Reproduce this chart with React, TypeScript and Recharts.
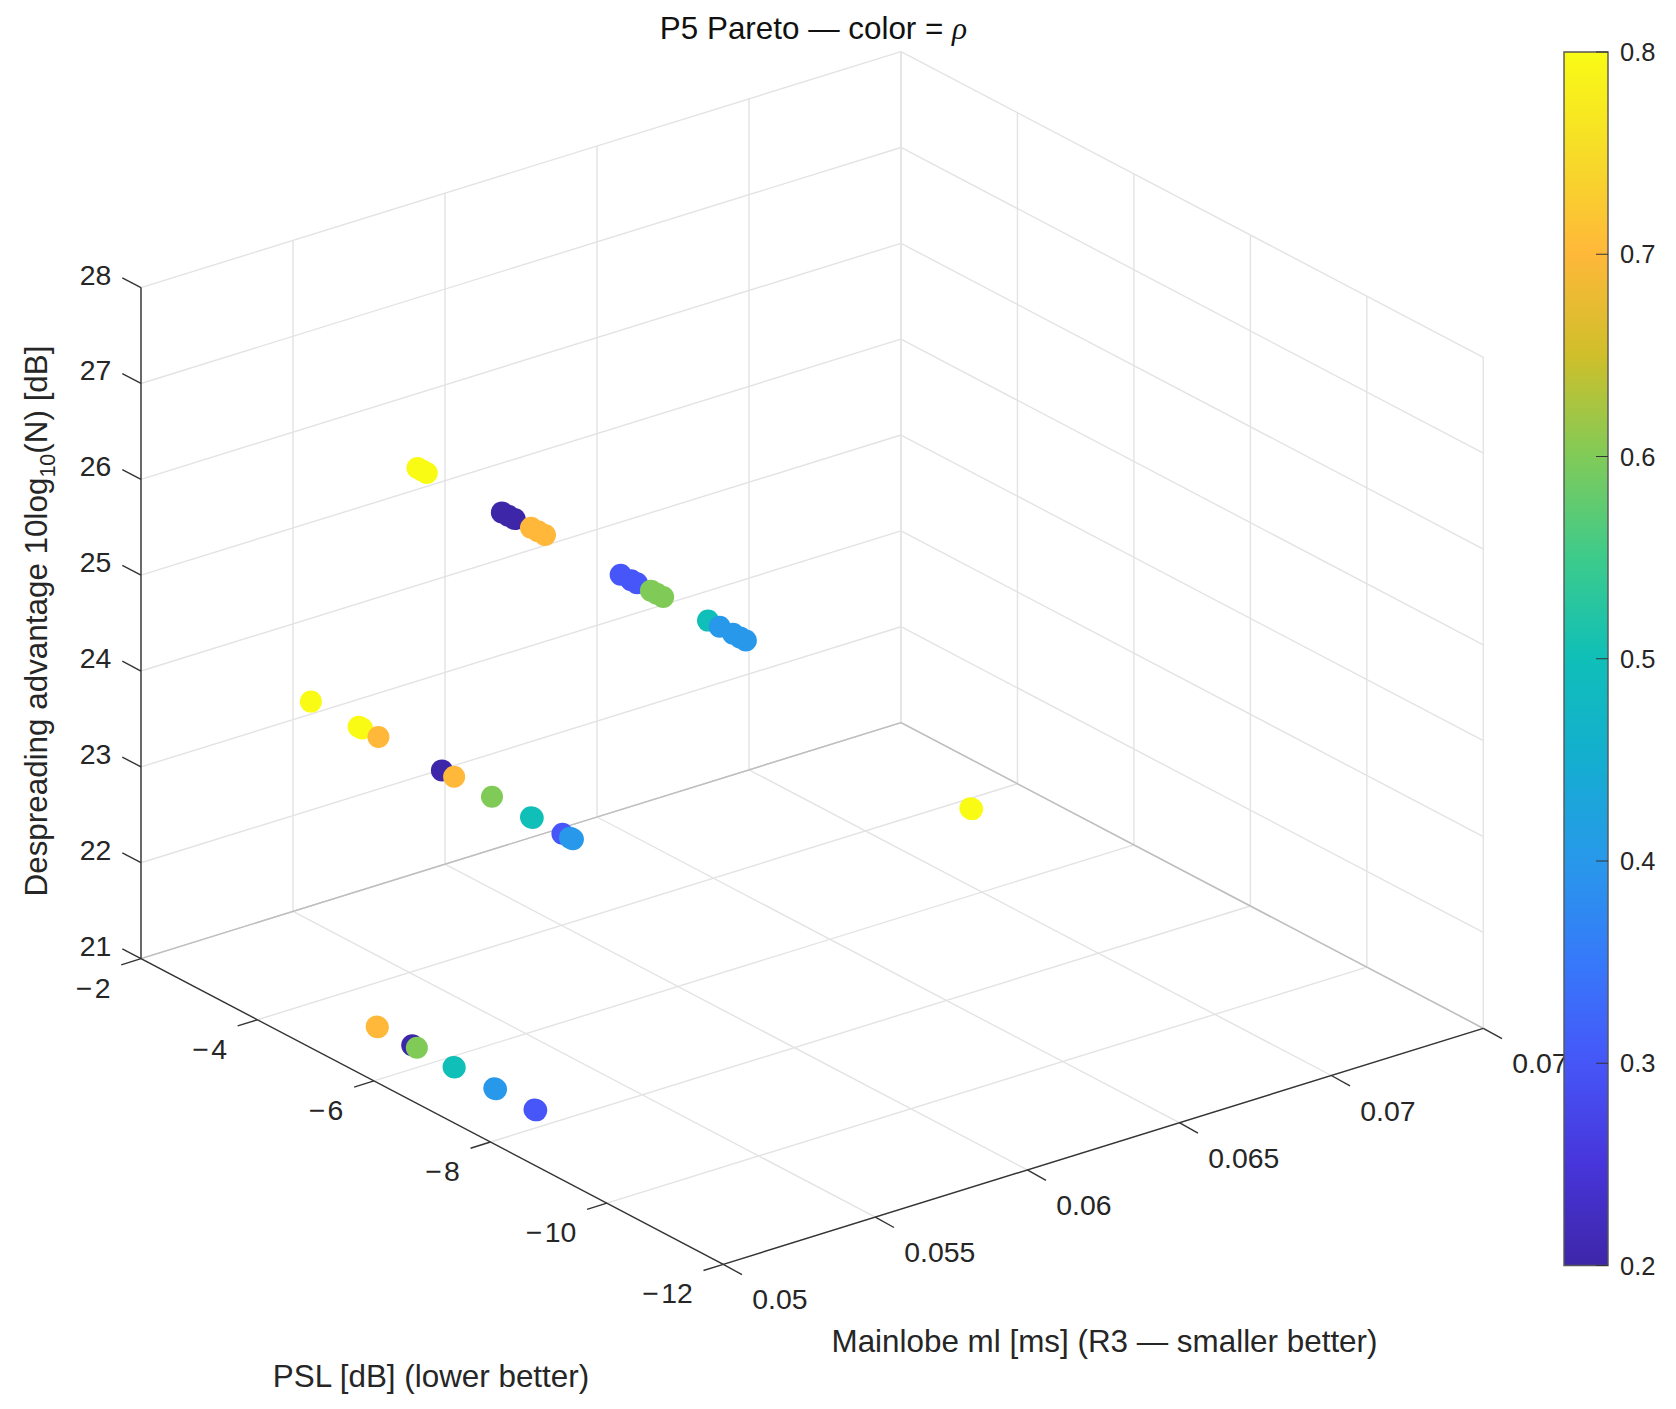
import React from "react";
import {
  ScatterChart,
  Scatter,
  BarChart,
  Bar,
  XAxis,
  YAxis,
  ReferenceLine,
} from "recharts";

const W = 1676;
const H = 1409;
const FONT = "'Liberation Sans', Arial, sans-serif";
const TEXT = "#262626";

// axis ticks
const mlTicks = [0.05, 0.055, 0.06, 0.065, 0.07, 0.075];
const mlTickLabels = ["0.05", "0.055", "0.06", "0.065", "0.07", "0.075"];
const pslTicks = [-2, -4, -6, -8, -10, -12];
const pslTickLabels = ["\u2212\u200A2", "\u2212\u200A4", "\u2212\u200A6", "\u2212\u200A8", "\u2212\u200A10", "\u2212\u200A12"];
const zTicks = [21, 22, 23, 24, 25, 26, 27, 28];
const rhoTicks = [0.2, 0.3, 0.4, 0.5, 0.6, 0.7, 0.8];

// pareto front, three rows of N plus the lone point
const pslTop = [-5.74, -5.82, -5.9, -7.19, -7.3, -7.41, -7.69, -7.81, -7.93, -9.23, -9.41, -9.51, -9.75, -9.85, -9.96, -10.73, -10.93, -11.16, -11.28, -11.38];
const rhoTop = [0.8, 0.8, 0.8, 0.2, 0.2, 0.2, 0.7, 0.7, 0.7, 0.3, 0.3, 0.3, 0.6, 0.6, 0.6, 0.5, 0.4, 0.4, 0.4, 0.4];
const pslMid = [-3.91, -4.73, -4.79, -5.07, -6.16, -6.37, -7.02, -7.69, -7.72, -8.23, -8.36, -8.41];
const rhoMid = [0.8, 0.8, 0.8, 0.7, 0.2, 0.7, 0.6, 0.5, 0.5, 0.3, 0.4, 0.4];
const pslLow = [-5.04, -5.06, -5.65, -5.73, -6.36, -6.38, -7.06, -7.09, -7.75, -7.78];
const rhoLow = [0.7, 0.7, 0.2, 0.6, 0.5, 0.5, 0.4, 0.4, 0.3, 0.3];
const pslLone = [-4.34, -4.37];
const rhoLone = [0.8, 0.8];
const mlRow = 0.05193;
const mlLone = 0.0728;
const zTop = 27.12;
const zMid = 24.1;
const zLow = 21.07;

// colormap
const cmapRho = [0.2, 0.25, 0.3, 0.35, 0.4, 0.45, 0.5, 0.55, 0.6, 0.65, 0.7, 0.75, 0.8];
const cmapHex = ["#3E26A8", "#4735DA", "#4656F8", "#3679FA", "#2898EA", "#14AED0", "#0FBFB8", "#3DCB8B", "#80CB58", "#CFBF2A", "#FFB83A", "#F6DC28", "#F9FB15"];

const rhoColor = (rho: number) => {
  let i = cmapRho.findIndex((r) => Math.abs(r - rho) < 1e-6);
  return cmapHex[Math.max(i, 0)];
};

// fixed view of the MATLAB box: orthographic, so all linear
const project = (ml: number, psl: number, z: number) => {
  const u = (-2 - psl) / 10;
  const v = (ml - 0.05) / 0.025;
  const w = (z - 21) / 7;
  return {
    px: 141 + 582.3 * u + 760 * v,
    py: 958.6 + 305.7 * u - 236 * v - 671 * w,
  };
};

const pt = (ml: number, psl: number, z: number, rho: number) => ({ ...project(ml, psl, z), ml, psl, z, rho });

const points = [
  ...pslTop.map((p, i) => pt(mlRow, p, zTop, rhoTop[i])),
  ...pslMid.map((p, i) => pt(mlRow, p, zMid, rhoMid[i])),
  ...pslLow.map((p, i) => pt(mlRow, p, zLow, rhoLow[i])),
  ...pslLone.map((p, i) => pt(mlLone, p, zLow, rhoLone[i])),
];

const mlMin = 0.05;
const mlMax = 0.075;
const pslNear = -2;
const pslFar = -12;
const zMin = 21;
const zMax = 28;

const seg = (a: { px: number; py: number }, b: { px: number; py: number }) => [
  { x: a.px, y: a.py },
  { x: b.px, y: b.py },
];

const gridSegments = [
  ...zTicks.flatMap((z) => [
    seg(project(mlMin, pslNear, z), project(mlMax, pslNear, z)),
    seg(project(mlMax, pslNear, z), project(mlMax, pslFar, z)),
  ]),
  ...mlTicks.flatMap((m) => [
    seg(project(m, pslNear, zMin), project(m, pslNear, zMax)),
    seg(project(m, pslNear, zMin), project(m, pslFar, zMin)),
  ]),
  ...pslTicks.flatMap((p) => [
    seg(project(mlMax, p, zMin), project(mlMax, p, zMax)),
    seg(project(mlMin, p, zMin), project(mlMax, p, zMin)),
  ]),
];

const backEdges = [
  seg(project(mlMin, pslNear, zMin), project(mlMax, pslNear, zMin)),
  seg(project(mlMax, pslNear, zMin), project(mlMax, pslFar, zMin)),
];

const axisSegments = [
  seg(project(mlMin, pslNear, zMin), project(mlMin, pslNear, zMax)),
  seg(project(mlMin, pslNear, zMin), project(mlMin, pslFar, zMin)),
  seg(project(mlMin, pslFar, zMin), project(mlMax, pslFar, zMin)),
];

const off = (a: { px: number; py: number }, dx: number, dy: number) => ({ px: a.px + dx, py: a.py + dy });

const tickSegments = [
  ...zTicks.map((z) => seg(project(mlMin, pslNear, z), off(project(mlMin, pslNear, z), -18.7, -9.8))),
  ...pslTicks.map((p) => seg(project(mlMin, p, zMin), off(project(mlMin, p, zMin), -19.8, 6.2))),
  ...mlTicks.map((m) => seg(project(m, pslFar, zMin), off(project(m, pslFar, zMin), 18.7, 10.4))),
];

const zLabelData = zTicks.map((z) => ({ ...project(mlMin, pslNear, z), label: String(z), dx: -29.6, dy: -3, anchor: "end" }));
const pslLabelData = pslTicks.map((p, i) => ({ ...project(mlMin, p, zMin), label: pslTickLabels[i], dx: -30.5, dy: 39, anchor: "end" }));
const mlLabelData = mlTicks.map((m, i) => ({ ...project(m, pslFar, zMin), label: mlTickLabels[i], dx: 29, dy: 45, anchor: "start" }));

const TickText = (p: any) => (
  <text
    x={p.cx + p.payload.dx}
    y={p.cy + p.payload.dy}
    textAnchor={p.payload.anchor}
    fontFamily={FONT}
    fontSize={28.4}
    fill={TEXT}
  >
    {p.payload.label}
  </text>
);

const Dot = (p: any) => <circle cx={p.cx} cy={p.cy} r={11} fill={rhoColor(p.payload.rho)} />;

const colorbarData = [{ name: "rho", span: [0.2, 0.8] }];

export default function App() {
  return (
    <div style={{ position: "absolute", left: 0, top: 0, width: W, height: H, background: "#fff", overflow: "hidden" }}>
      <div style={{ position: "absolute", left: 0, top: 0 }}>
        <ScatterChart width={W} height={H} margin={{ top: 0, right: 0, bottom: 0, left: 0 }}>
          <XAxis type="number" dataKey="px" domain={[0, W]} hide />
          <YAxis type="number" dataKey="py" domain={[0, H]} reversed hide />
          {gridSegments.map((s, i) => (
            <ReferenceLine key={"g" + i} segment={s} stroke="#e3e3e3" strokeWidth={1.4} />
          ))}
          {backEdges.map((s, i) => (
            <ReferenceLine key={"b" + i} segment={s} stroke="#bdbdbd" strokeWidth={1.4} />
          ))}
          {axisSegments.map((s, i) => (
            <ReferenceLine key={"a" + i} segment={s} stroke="#333" strokeWidth={1.4} />
          ))}
          {tickSegments.map((s, i) => (
            <ReferenceLine key={"t" + i} segment={s} stroke="#333" strokeWidth={1.4} />
          ))}
          <Scatter data={zLabelData} shape={TickText} isAnimationActive={false} />
          <Scatter data={pslLabelData} shape={TickText} isAnimationActive={false} />
          <Scatter data={mlLabelData} shape={TickText} isAnimationActive={false} />
          <Scatter data={points} shape={Dot} isAnimationActive={false} />
          <text x={813.5} y={39} textAnchor="middle" fontFamily={FONT} fontSize={31.4} fill="#111">
            P5 Pareto — color ={" "}
            <tspan fontFamily="'Liberation Serif', serif" fontStyle="italic">
              ρ
            </tspan>
          </text>
          <text x={431} y={1387} textAnchor="middle" fontFamily={FONT} fontSize={31.4} fill={TEXT}>
            PSL [dB] (lower better)
          </text>
          <text x={1104.5} y={1352} textAnchor="middle" fontFamily={FONT} fontSize={31.4} fill={TEXT}>
            Mainlobe ml [ms] (R3 — smaller better)
          </text>
          <text
            x={47}
            y={621}
            textAnchor="middle"
            transform="rotate(-90 47 621)"
            fontFamily={FONT}
            fontSize={31.4}
            fill={TEXT}
          >
            Despreading advantage 10log
            <tspan fontSize={21.5} dy={8}>
              10
            </tspan>
            <tspan dy={-8}>(N) [dB]</tspan>
          </text>
        </ScatterChart>
      </div>
      <div style={{ position: "absolute", left: 1560, top: 0 }}>
        <BarChart
          width={116}
          height={H}
          data={colorbarData}
          barCategoryGap={0}
          margin={{ top: 52, right: 0, bottom: 143.5, left: 4 }}
        >
          <defs>
            <linearGradient id="parulaBar" x1="0" y1="1" x2="0" y2="0">
              {cmapRho.map((r, i) => (
                <stop key={r} offset={(r - 0.2) / 0.6} stopColor={cmapHex[i]} />
              ))}
            </linearGradient>
          </defs>
          <XAxis dataKey="name" hide />
          <YAxis
            orientation="right"
            width={68}
            type="number"
            domain={[0.2, 0.8]}
            ticks={rhoTicks}
            interval={0}
            axisLine={false}
            tickSize={-12}
            tickMargin={24}
            stroke="#333"
            tick={{ fontSize: 25.5, fontFamily: FONT, fill: TEXT }}
            tickFormatter={(v: number) => v.toFixed(1)}
          />
          <Bar dataKey="span" fill="url(#parulaBar)" stroke="#555" strokeWidth={1.4} isAnimationActive={false} />
        </BarChart>
      </div>
    </div>
  );
}
